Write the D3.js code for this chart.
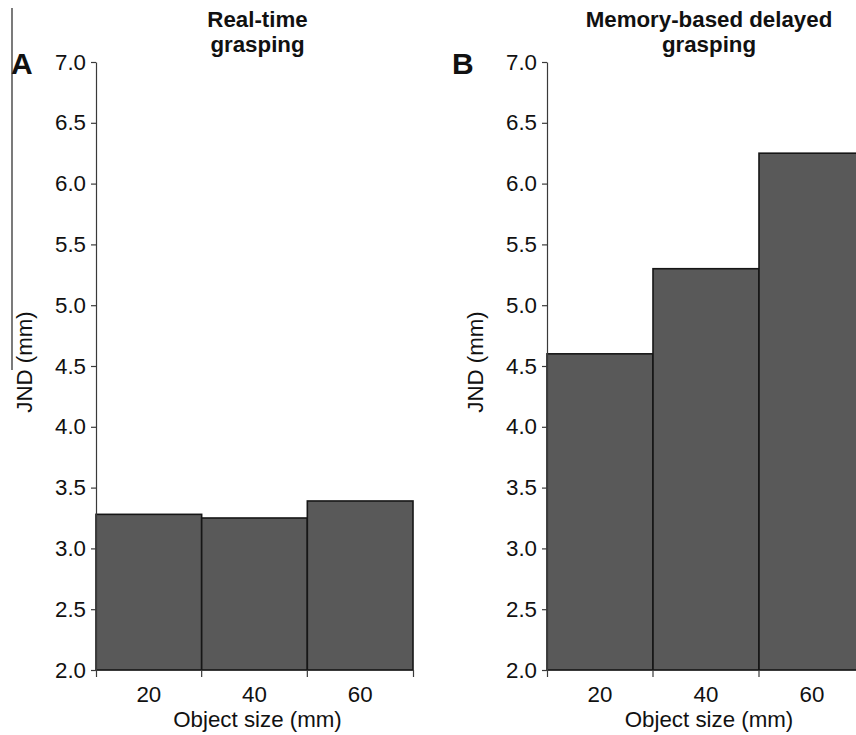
<!DOCTYPE html>
<html>
<head>
<meta charset="utf-8">
<script src="https://cdn.jsdelivr.net/npm/d3@7"></script>
<style>
  body { margin: 0; background: #fff; }
  svg { display: block; font-family: "Liberation Sans", Arial, sans-serif; }
</style>
</head>
<body>
<div id="chart"></div>
<script>
// JND per object size, two panels
const width = 856, height = 735;
const sizes = ["20", "40", "60"];
const realTime = [3.28, 3.25, 3.39];
const delayed = [4.60, 5.30, 6.25];
const yTicks = [2.0, 2.5, 3.0, 3.5, 4.0, 4.5, 5.0, 5.5, 6.0, 6.5, 7.0];
const fontSize = 22.3;
const axisColor = "#3a3a3a";
const barColor = "#595959";

const svg = d3.select("#chart").append("svg")
  .attr("width", width).attr("height", height).attr("viewBox", `0 0 ${width} ${height}`);

// stray scan line at the left edge of panel A
svg.append("line").attr("x1", 12).attr("x2", 12).attr("y1", 8).attr("y2", 370)
  .attr("stroke", "#222").attr("stroke-width", 1.2);

const y = d3.scaleLinear().domain([2, 7]).range([670, 62]);

function panel(left, right, values, letter, letterX, titleLines, yTitleX) {
  const g = svg.append("g");
  const x = d3.scaleBand().domain(sizes).range([left, right]).padding(0);

  g.selectAll("rect.bar").data(sizes).join("rect").attr("class", "bar")
    .attr("x", d => x(d)).attr("width", x.bandwidth())
    .attr("y", (d, i) => y(values[i])).attr("height", (d, i) => y(2) - y(values[i]))
    .attr("fill", barColor).attr("stroke", "#161616").attr("stroke-width", 1.6);

  const yAxis = g.append("g").attr("transform", `translate(${left},0)`)
    .call(d3.axisLeft(y).tickValues(yTicks).tickFormat(d3.format(".1f")).tickSize(5).tickSizeOuter(0).tickPadding(5));
  yAxis.selectAll("text").attr("font-size", fontSize).attr("fill", "#111").attr("font-family", "Liberation Sans, Arial, sans-serif");
  yAxis.selectAll("line,path").attr("stroke", axisColor).attr("stroke-width", 1.2);

  const xAxis = g.append("g").attr("transform", `translate(0,${y(2)})`)
    .call(d3.axisBottom(x).tickSize(0).tickSizeOuter(7).tickPadding(16));
  xAxis.selectAll("text").attr("font-size", fontSize).attr("fill", "#111").attr("font-family", "Liberation Sans, Arial, sans-serif");
  xAxis.selectAll("path").attr("stroke", axisColor).attr("stroke-width", 1.2);
  // ticks at the band edges
  xAxis.selectAll("line.edge").data(sizes.slice(1)).join("line").attr("class", "edge")
    .attr("x1", d => x(d)).attr("x2", d => x(d)).attr("y1", 0).attr("y2", 7)
    .attr("stroke", axisColor).attr("stroke-width", 1.2);

  const cx = (left + right) / 2 + 3;
  g.append("text").attr("x", cx).attr("y", 727).attr("text-anchor", "middle")
    .attr("font-size", fontSize).attr("fill", "#111").text("Object size (mm)");

  g.append("text").attr("transform", `translate(${yTitleX},362) rotate(-90)`)
    .attr("text-anchor", "middle").attr("font-size", fontSize).attr("fill", "#111").text("JND (mm)");

  titleLines.forEach((t, i) => {
    g.append("text").attr("x", cx).attr("y", 27 + i * 25).attr("text-anchor", "middle")
      .attr("font-size", fontSize).attr("font-weight", "bold").attr("fill", "#111").text(t);
  });

  g.append("text").attr("x", letterX).attr("y", 74).attr("font-size", 30)
    .attr("font-weight", "bold").attr("fill", "#111").text(letter);
}

panel(96, 413, realTime, "A", 11, ["Real-time", "grasping"], 32);
panel(547, 865, delayed, "B", 452, ["Memory-based delayed", "grasping"], 483);
</script>
</body>
</html>
